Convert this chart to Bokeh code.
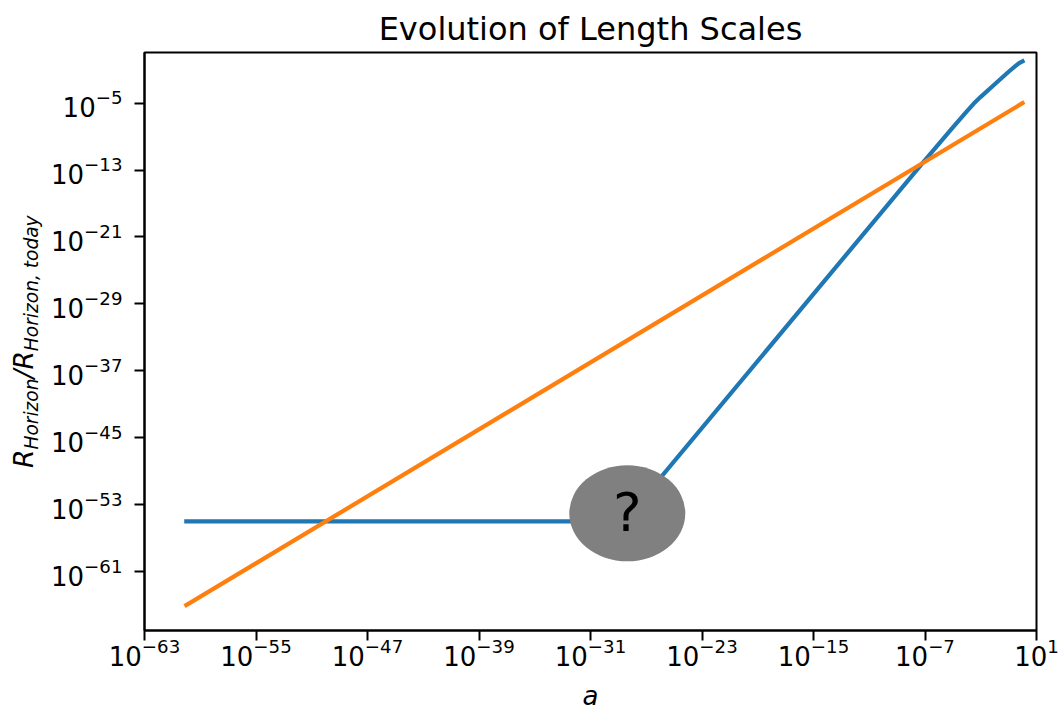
import math
from bokeh.plotting import figure
from bokeh.layouts import row
from bokeh.models import Range1d, FixedTicker, ColumnDataSource
from bokeh.core.properties import value
from bokeh.embed import file_html
from bokeh.resources import INLINE

# ---- data (log10 values) ----
blue_log_a = [-60.0, -28.59, -7.18, -5.0, -4.5, -4.0, -3.5, -3.0, -2.0, -1.0, -0.5, -0.25, 0.0]
blue_log_r = [-55.0, -55.0, -12.18, -7.9, -6.95, -6.0, -5.05, -4.25, -2.75, -1.25, -0.55, -0.22, 0.0]

orange_log_a = [-60.0, 0.0]
orange_log_r = [-65.0, -5.0]

bubble_log_a = [-28.36]
bubble_log_r = [-54.03]
bubble_text = ["?"]

x_tick_exps = list(range(-63, 2, 8))
y_tick_exps = list(range(-61, -4, 8))

x_lim_exp = (-63.0, 1.0)
y_lim_exp = (-68.04, 1.05)

title_text = "Evolution of Length Scales"
x_label_text = "a"
y_label_parts = ["R", "Horizon", "/R", "Horizon, today"]
y_label_is_sub = [False, True, False, True]

FONT = "DejaVu Sans"
W, H = 1060, 713
LW = 48  # width of the strip holding the y label
TOP, BOTTOM = 52, 82

# ---------------- main plot ----------------
p = figure(width=W - LW, height=H,
           x_axis_type="log", y_axis_type="log",
           x_range=Range1d(10 ** x_lim_exp[0], 10 ** x_lim_exp[1]),
           y_range=Range1d(10 ** y_lim_exp[0], 10 ** y_lim_exp[1]),
           output_backend="svg", toolbar_location=None,
           min_border_left=143 - LW, min_border_right=24,
           min_border_top=TOP, min_border_bottom=BOTTOM)

p.title.text = title_text
p.title.text_font = FONT
p.title.text_font_size = "32px"
p.title.text_font_style = "normal"
p.title.align = "center"
p.title.text_color = "black"

p.xgrid.visible = False
p.ygrid.visible = False
p.outline_line_color = "black"
p.outline_line_width = 2
p.background_fill_color = "white"
p.border_fill_color = "white"

p.xaxis.ticker = FixedTicker(ticks=[10.0 ** e for e in x_tick_exps])
p.yaxis.ticker = FixedTicker(ticks=[10.0 ** e for e in y_tick_exps])
for ax in (p.xaxis, p.yaxis):
    ax.axis_line_color = "black"
    ax.axis_line_width = 2
    ax.major_tick_line_color = "black"
    ax.major_tick_line_width = 2
    ax.major_tick_in = 0
    ax.major_tick_out = 10
    ax.minor_tick_line_color = None
    ax.major_label_text_font = FONT
    ax.major_label_text_font_size = "26px"
    ax.major_label_text_color = "black"
p.xaxis.major_label_standoff = -3
p.yaxis.major_label_standoff = 12

p.xaxis.axis_label = x_label_text
p.xaxis.axis_label_text_font = FONT
p.xaxis.axis_label_text_font_size = "26px"
p.xaxis.axis_label_text_font_style = "italic"
p.xaxis.axis_label_text_color = "black"
p.xaxis.axis_label_standoff = 12

src_b = ColumnDataSource(dict(a=[10 ** v for v in blue_log_a], r=[10 ** v for v in blue_log_r]))
src_o = ColumnDataSource(dict(a=[10 ** v for v in orange_log_a], r=[10 ** v for v in orange_log_r]))
src_q = ColumnDataSource(dict(a=[10 ** v for v in bubble_log_a], r=[10 ** v for v in bubble_log_r], t=bubble_text))

p.line("a", "r", source=src_b, line_color="#1f77b4", line_width=4.2, line_cap="square")
p.line("a", "r", source=src_o, line_color="#ff7f0e", line_width=4.2, line_cap="square")
p.ellipse("a", "r", source=src_q, width=116, height=96, width_units="screen",
          height_units="screen", fill_color="#808080", line_color=None)
p.text("a", "r", text="t", source=src_q, text_font=value(FONT), text_font_size="54px",
       text_align="center", text_baseline="alphabetic", y_offset=-1, text_color="black")

# ---------------- y label strip (frame aligned with main frame) ----------------
lab = figure(width=LW, height=H, x_range=Range1d(0, LW), y_range=Range1d(BOTTOM, H - TOP),
             output_backend="svg", toolbar_location=None, min_border=0,
             min_border_left=0, min_border_right=0,
             x_axis_location=None, y_axis_location=None)
lab.outline_line_color = None
lab.background_fill_color = "white"
lab.border_fill_color = "white"
lab.xgrid.visible = False
lab.ygrid.visible = False

big, small = 26.6, 18.6
em_widths = {"R": 0.695, "Horizon": 3.824, "/R": 1.032, "Horizon, today": 7.304}
sizes = [small if s else big for s in y_label_is_sub]
lens = [em_widths[t] * s for t, s in zip(y_label_parts, sizes)]
frame_mid = H - (52.3 + 631.3) / 2
start = frame_mid - sum(lens) / 2
base_x = 33
xs, ys = [], []
for L, sub, sz in zip(lens, y_label_is_sub, sizes):
    xs.append(base_x + (5 if sub else 0) - 0.37 * sz)
    ys.append(start)
    start += L

for sub, sz in ((False, big), (True, small)):
    idx = [i for i, s in enumerate(y_label_is_sub) if s == sub]
    lab.text(x=[xs[i] for i in idx], y=[ys[i] for i in idx],
             text=[y_label_parts[i] for i in idx], angle=math.pi / 2,
             text_font=value(FONT), text_font_size=f"{sz}px", text_font_style="italic",
             text_align="left", text_baseline="alphabetic", text_color="black")

layout = row(lab, p, spacing=0)
open("out.html", "w").write(file_html(layout, INLINE))
